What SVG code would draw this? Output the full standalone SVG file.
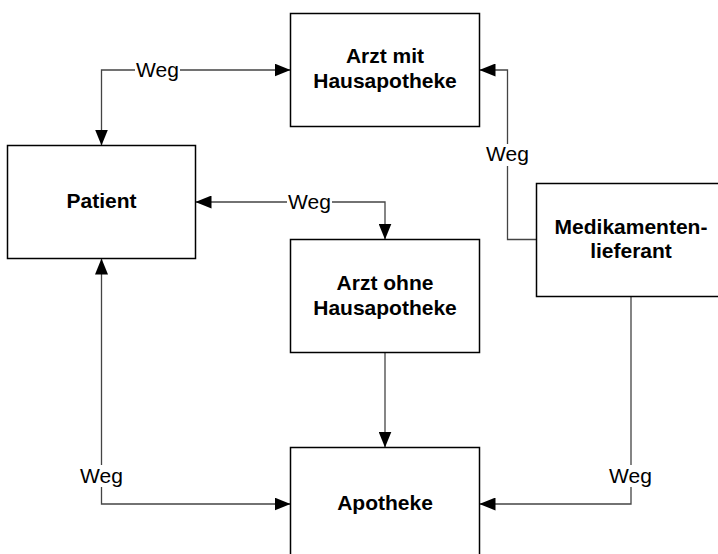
<svg xmlns="http://www.w3.org/2000/svg" width="718" height="554" viewBox="0 0 718 554">
  <defs>
    <marker id="arrow" viewBox="0 0 16 13" refX="16" refY="6.5" markerWidth="16" markerHeight="13" markerUnits="userSpaceOnUse" orient="auto-start-reverse">
      <path d="M0,0 L16,6.5 L0,13 Z" fill="#000"/>
    </marker>
    <style>
      .node rect { fill: #fff; stroke: #000; stroke-width: 1.5; }
      .node text { font-family: "Liberation Sans", Arial, sans-serif; font-size: 21px; font-weight: bold; text-anchor: middle; fill: #000; }
      .edge { fill: none; stroke: #444; stroke-width: 1.3; }
      .lbl-bg { fill: #fff; }
      .lbl { font-family: "Liberation Sans", Arial, sans-serif; font-size: 21px; text-anchor: middle; fill: #000; }
    </style>
  </defs>
  <rect width="718" height="554" fill="#fff"/>

  <g id="connectors">
    <!-- Patient <-> Arzt mit Hausapotheke -->
    <path class="edge" d="M101.5,145.5 V70 H290.5" marker-start="url(#arrow)" marker-end="url(#arrow)"/>
    <!-- Patient <-> Arzt ohne Hausapotheke -->
    <path class="edge" d="M195.5,202 H385 V239.5" marker-start="url(#arrow)" marker-end="url(#arrow)"/>
    <!-- Patient <-> Apotheke -->
    <path class="edge" d="M101.5,258.5 V504 H290.5" marker-start="url(#arrow)" marker-end="url(#arrow)"/>
    <!-- Arzt ohne Hausapotheke -> Apotheke -->
    <path class="edge" d="M385,352.5 V447.5" marker-end="url(#arrow)"/>
    <!-- Medikamentenlieferant -> Arzt mit Hausapotheke -->
    <path class="edge" d="M536.5,239.5 H507.5 V70 H479.5" marker-end="url(#arrow)"/>
    <!-- Medikamentenlieferant -> Apotheke -->
    <path class="edge" d="M631,296.5 V504 H479.5" marker-end="url(#arrow)"/>

    <rect class="lbl-bg" x="135" y="60" width="45" height="20"/>
    <text class="lbl" x="157.5" y="77">Weg</text>
    <rect class="lbl-bg" x="287" y="192" width="45" height="20"/>
    <text class="lbl" x="309.5" y="209">Weg</text>
    <rect class="lbl-bg" x="79" y="465" width="45" height="22"/>
    <text class="lbl" x="101.5" y="483">Weg</text>
    <rect class="lbl-bg" x="485" y="144" width="45" height="22"/>
    <text class="lbl" x="507.5" y="161">Weg</text>
    <rect class="lbl-bg" x="608" y="465" width="45" height="22"/>
    <text class="lbl" x="630.5" y="483">Weg</text>
  </g>

  <g id="arzt-mit" class="node">
    <rect x="290.5" y="13.5" width="189" height="113"/>
    <text x="385" y="63">Arzt mit</text>
    <text x="385" y="88">Hausapotheke</text>
  </g>

  <g id="patient" class="node">
    <rect x="7.5" y="145.5" width="188" height="113"/>
    <text x="101.5" y="208">Patient</text>
  </g>

  <g id="arzt-ohne" class="node">
    <rect x="290.5" y="239.5" width="189" height="113"/>
    <text x="385" y="290">Arzt ohne</text>
    <text x="385" y="314.5">Hausapotheke</text>
  </g>

  <g id="medikamentenlieferant" class="node">
    <rect x="536.5" y="183.5" width="189" height="113"/>
    <text x="631" y="234">Medikamenten-</text>
    <text x="631" y="258">lieferant</text>
  </g>

  <g id="apotheke" class="node">
    <rect x="290.5" y="447.5" width="189" height="113"/>
    <text x="385" y="510">Apotheke</text>
  </g>
</svg>
